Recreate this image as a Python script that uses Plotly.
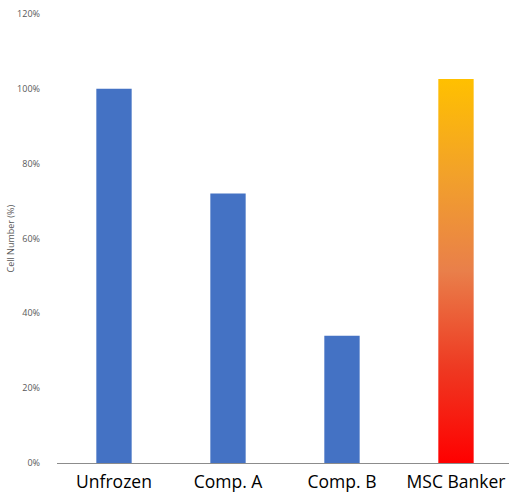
import plotly.graph_objects as go

categories = ["Unfrozen", "Comp. A", "Comp. B", "MSC Banker"]
values = [1.00, 0.72, 0.34, 1.026]
bar_color = "#4472C4"
gradient_scale = [[0.0, "#FF0000"], [0.25, "#EE3A22"], [0.5, "#E97F4A"], [0.75, "#F2A12A"], [1.0, "#FFC000"]]

bar_w = 0.31
xs = list(range(len(categories)))

fig = go.Figure()
fig.add_trace(go.Bar(x=xs[:3], y=values[:3], width=bar_w, marker=dict(color=bar_color, line=dict(width=0)),
                     showlegend=False, hoverinfo="skip"))

# gradient bar for MSC Banker
i = 3
v = values[i]
fig.add_trace(go.Scatter(
    x=[i - bar_w / 2, i + bar_w / 2, i + bar_w / 2, i - bar_w / 2, i - bar_w / 2],
    y=[0, 0, v, v, 0],
    mode="lines", line=dict(width=0), fill="toself",
    fillgradient=dict(type="vertical", colorscale=gradient_scale, start=0, stop=v),
    showlegend=False, hoverinfo="skip"))

fig.update_layout(
    width=509, height=494,
    margin=dict(l=57, r=0, t=14, b=31),
    plot_bgcolor="white", paper_bgcolor="white",
    font=dict(family="Open Sans", color="#000000"),
)
fig.update_xaxes(range=[-0.5, 3.465], tickvals=xs, ticktext=categories, automargin=False,
                 tickfont=dict(size=17.5, color="#000000"), showgrid=False, zeroline=False,
                 showline=True, linecolor="#8C8C8C", linewidth=1, ticks="", ticklabelstandoff=3)
fig.update_yaxes(range=[0, 1.2], dtick=0.2, tickformat=".0%", showgrid=False, zeroline=False,
                 automargin=False,
                 showline=False, tickfont=dict(size=9, color="#595959"), ticklabelstandoff=16)
fig.add_annotation(text="Cell Number (%)", textangle=-90, xref="paper", yref="paper",
                   x=0, y=0.5, xanchor="center", yanchor="middle", xshift=-47, showarrow=False,
                   font=dict(size=9, color="#595959"))

fig.write_html("out.html", config={"displayModeBar": False},
               post_script="document.body.style.margin='0';document.body.style.overflow='hidden';")
